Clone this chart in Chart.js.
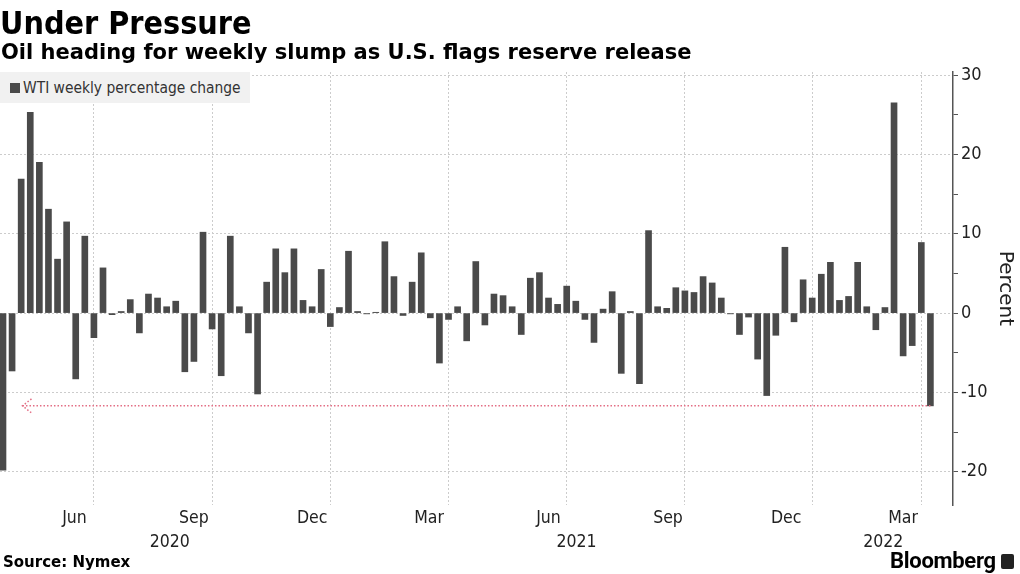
<!DOCTYPE html>
<html>
<head>
<meta charset="utf-8">
<script src="https://cdn.jsdelivr.net/npm/chart.js@4.4.1/dist/chart.umd.min.js"></script>
<style>
  body { margin: 0; background: #fff; }
  #wrap { position: relative; width: 1020px; height: 574px; overflow: hidden;
          font-family: "DejaVu Sans Condensed", "DejaVu Sans", sans-serif; color: #000; }
  #chart { position: absolute; left: 0; top: 0; }
  .title { position: absolute; left: 0; top: 7px; font-size: 32px; line-height: 32px; font-weight: bold; }
  .subtitle { position: absolute; left: 1px; top: 42px; font-family: "DejaVu Sans", sans-serif;
              font-size: 21px; line-height: 21px; font-weight: bold; }
  .legend { position: absolute; left: 0; top: 72px; width: 250px; height: 31px; background: #f1f1f1;
            display: flex; align-items: center; font-size: 15.4px; color: #333; }
  .legend .swatch { width: 10px; height: 10px; background: #4a4a4a; margin: 0 3px 0 10px; }
  .source { position: absolute; left: 3px; top: 555px; font-family: "DejaVu Sans", sans-serif;
            font-size: 15px; line-height: 15px; font-weight: bold; }
  .brand { position: absolute; left: 890px; top: 550px; font-family: Roboto, "Liberation Sans", sans-serif;
           font-size: 22px; line-height: 21px; font-weight: bold; letter-spacing: -0.3px; }
  .brand .icon { display: inline-block; width: 13px; height: 15px; background: #222; border-radius: 2px;
                 margin-left: 5px; vertical-align: -1px; }
</style>
</head>
<body>
<div id="wrap">
  <canvas id="chart" width="1020" height="574"></canvas>
  <div class="title">Under Pressure</div>
  <div class="subtitle">Oil heading for weekly slump as U.S. flags reserve release</div>
  <div class="legend"><span class="swatch"></span>WTI weekly percentage change</div>
  <div class="source">Source: Nymex</div>
  <div class="brand">Bloomberg<span class="icon"></span></div>
</div>
<script>
// Week ending dates (Fridays)
const weekEnding = [
  "2020-04-17", "2020-04-24", "2020-05-01", "2020-05-08", "2020-05-15", "2020-05-22", "2020-05-29",
  "2020-06-05", "2020-06-12", "2020-06-19", "2020-06-26", "2020-07-03", "2020-07-10", "2020-07-17",
  "2020-07-24", "2020-07-31", "2020-08-07", "2020-08-14", "2020-08-21", "2020-08-28", "2020-09-04",
  "2020-09-11", "2020-09-18", "2020-09-25", "2020-10-02", "2020-10-09", "2020-10-16", "2020-10-23",
  "2020-10-30", "2020-11-06", "2020-11-13", "2020-11-20", "2020-11-27", "2020-12-04", "2020-12-11",
  "2020-12-18", "2020-12-25", "2021-01-01", "2021-01-08", "2021-01-15", "2021-01-22", "2021-01-29",
  "2021-02-05", "2021-02-12", "2021-02-19", "2021-02-26", "2021-03-05", "2021-03-12", "2021-03-19",
  "2021-03-26", "2021-04-02", "2021-04-09", "2021-04-16", "2021-04-23", "2021-04-30", "2021-05-07",
  "2021-05-14", "2021-05-21", "2021-05-28", "2021-06-04", "2021-06-11", "2021-06-18", "2021-06-25",
  "2021-07-02", "2021-07-09", "2021-07-16", "2021-07-23", "2021-07-30", "2021-08-06", "2021-08-13",
  "2021-08-20", "2021-08-27", "2021-09-03", "2021-09-10", "2021-09-17", "2021-09-24", "2021-10-01",
  "2021-10-08", "2021-10-15", "2021-10-22", "2021-10-29", "2021-11-05", "2021-11-12", "2021-11-19",
  "2021-11-26", "2021-12-03", "2021-12-10", "2021-12-17", "2021-12-24", "2021-12-31", "2022-01-07",
  "2022-01-14", "2022-01-21", "2022-01-28", "2022-02-04", "2022-02-11", "2022-02-18", "2022-02-25",
  "2022-03-04", "2022-03-11", "2022-03-18", "2022-03-25", "2022-04-01"
];

// WTI weekly percentage change
const wtiChange = [
  -19.8, -7.3, 16.9, 25.3, 19.0, 13.1, 6.8,
  11.5, -8.3, 9.7, -3.1, 5.7, -0.2, 0.2,
  1.7, -2.5, 2.4, 1.9, 0.8, 1.5, -7.4,
  -6.1, 10.2, -2.0, -7.9, 9.7, 0.8, -2.5,
  -10.2, 3.9, 8.1, 5.1, 8.1, 1.6, 0.8,
  5.5, -1.7, 0.7, 7.8, 0.2, -0.1, 0.1,
  9.0, 4.6, -0.3, 3.9, 7.6, -0.6, -6.3,
  -0.8, 0.8, -3.5, 6.5, -1.5, 2.4, 2.2,
  0.8, -2.7, 4.4, 5.1, 1.9, 1.1, 3.4,
  1.5, -0.8, -3.7, 0.5, 2.7, -7.6, 0.2,
  -8.9, 10.4, 0.8, 0.6, 3.2, 2.8, 2.6,
  4.6, 3.8, 1.9, -0.1, -2.7, -0.5, -5.8,
  -10.4, -2.8, 8.3, -1.1, 4.2, 1.9, 4.9,
  6.4, 1.6, 2.1, 6.4, 0.8, -2.1, 0.7,
  26.5, -5.4, -4.1, 8.9, -11.7
];

// Axis labels
const monthLabels = ["Jun", "Sep", "Dec", "Mar", "Jun", "Sep", "Dec", "Mar"];
const monthLabelDates = ["2020-06-11", "2020-09-11", "2020-12-11", "2021-03-11",
                         "2021-06-11", "2021-09-11", "2021-12-11", "2022-03-11"];
const quarterGridDates = ["2020-06-26", "2020-09-25", "2020-12-25", "2021-03-26",
                          "2021-06-25", "2021-09-24", "2021-12-31", "2022-03-25"];
const yearLabels = ["2020", "2021", "2022"];
const yTicks = [-20, -15, -10, -5, 0, 5, 10, 15, 20, 25, 30];

const FONT = '"DejaVu Sans Condensed", "DejaVu Sans", sans-serif';
const start = Date.parse(weekEnding[0]);
const dayOf = (s) => (Date.parse(s) - start) / 864e5;

const xMin = -2.3;
const xMax = dayOf(weekEnding[weekEnding.length - 1]) + 17.4;

// year label sits in the middle of the visible part of that year
const yearTicks = yearLabels.map((y) => {
  const a = Math.max(xMin, dayOf(y + "-01-01"));
  const b = Math.min(xMax, dayOf((+y + 1) + "-01-01"));
  return { value: (a + b) / 2, name: y };
});

const lastLevel = wtiChange[wtiChange.length - 1];

// small dotted arrowhead at the left end of the reference line
const arrowHead = {
  id: "arrowHead",
  afterDatasetsDraw(chart) {
    const p = chart.getDatasetMeta(1).data[0];
    if (!p) return;
    const ctx = chart.ctx;
    ctx.save();
    ctx.strokeStyle = "#e36d84";
    ctx.lineWidth = 1.5;
    ctx.setLineDash([1.5, 2]);
    ctx.beginPath();
    ctx.moveTo(p.x + 9, p.y - 7);
    ctx.lineTo(p.x, p.y);
    ctx.lineTo(p.x + 9, p.y + 7);
    ctx.stroke();
    ctx.restore();
  },
};

new Chart(document.getElementById("chart").getContext("2d"), {
  type: "bar",
  data: {
    datasets: [
      {
        type: "bar",
        label: "WTI weekly percentage change",
        data: weekEnding.map((d, i) => ({ x: dayOf(d), y: wtiChange[i] })),
        backgroundColor: "#4a4a4a",
        barThickness: 6,
        order: 2,
      },
      {
        type: "line",
        data: [
          { x: dayOf(weekEnding[2]) + 1, y: lastLevel },
          { x: dayOf(weekEnding[weekEnding.length - 1]), y: lastLevel },
        ],
        borderColor: "#e36d84",
        borderWidth: 1.5,
        borderDash: [1.5, 2],
        pointRadius: 0,
        order: 1,
      },
    ],
  },
  options: {
    responsive: false,
    devicePixelRatio: 1,
    animation: false,
    layout: { padding: { top: 72, left: 0, right: 0, bottom: 21 } },
    plugins: { legend: { display: false }, tooltip: { enabled: false } },
    scales: {
      x: {
        type: "linear",
        min: xMin,
        max: xMax,
        offset: false,
        weight: 0,
        afterBuildTicks: (scale) => {
          const lines = quarterGridDates.map((d) => ({ value: dayOf(d), isLine: true }));
          const labels = monthLabelDates.map((d, i) => ({ value: dayOf(d), name: monthLabels[i] }));
          scale.ticks = lines.concat(labels).sort((a, b) => a.value - b.value);
        },
        ticks: {
          autoSkip: false,
          maxRotation: 0,
          padding: 3,
          color: "#222",
          font: { family: FONT, size: 17.5 },
          callback: (v, i, ticks) => ticks[i].name || "",
        },
        grid: {
          offset: false,
          drawTicks: false,
          lineWidth: 1,
          color: (c) => (c.tick && c.tick.isLine ? "#cccccc" : "rgba(0,0,0,0)"),
        },
        border: { display: false, dash: [2, 2] },
      },
      x2: {
        type: "linear",
        position: "bottom",
        min: xMin,
        max: xMax,
        offset: false,
        weight: 1,
        afterBuildTicks: (scale) => {
          scale.ticks = yearTicks.map((t) => ({ value: t.value, name: t.name }));
        },
        ticks: {
          autoSkip: false,
          maxRotation: 0,
          padding: 0,
          color: "#222",
          font: { family: FONT, size: 17.5 },
          callback: (v, i, ticks) => ticks[i].name || "",
        },
        grid: { display: false, drawTicks: false },
        border: { display: false },
      },
      y: {
        position: "right",
        min: -24.2,
        max: 30.4,
        afterBuildTicks: (scale) => {
          scale.ticks = yTicks.map((v) => ({ value: v }));
        },
        afterFit: (scale) => {
          scale.width = 67;
        },
        ticks: {
          padding: 3,
          color: "#222",
          font: { family: FONT, size: 18 },
          callback: (v) => (v % 10 === 0 ? String(v) : ""),
        },
        grid: {
          tickLength: 5,
          tickColor: "#555",
          tickWidth: 1,
          color: (c) => (c.tick && c.tick.value % 10 === 0 ? "#cccccc" : "rgba(0,0,0,0)"),
        },
        border: { color: "#555", width: 1.5, dash: [2, 2] },
        title: {
          display: true,
          text: "Percent",
          color: "#222",
          font: { family: '"DejaVu Sans", sans-serif', size: 20 },
          padding: { top: 3, bottom: 4 },
        },
      },
    },
  },
  plugins: [arrowHead],
});
</script>
</body>
</html>
